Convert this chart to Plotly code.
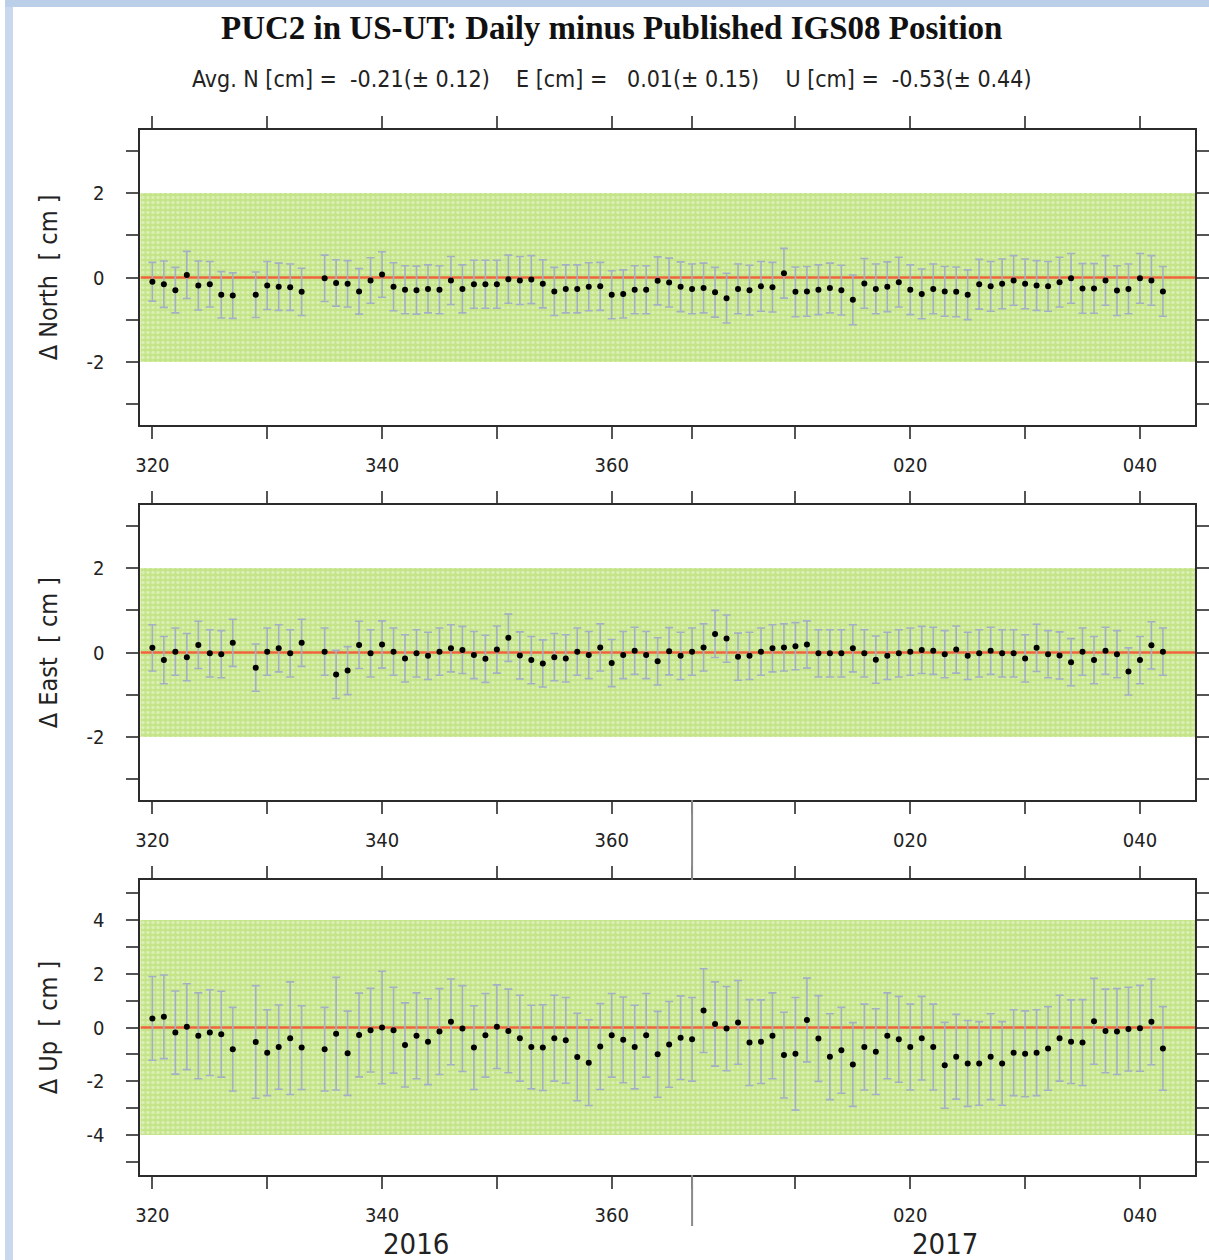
import plotly.graph_objects as go
from plotly.subplots import make_subplots

# day of year, continuous across the 2016/2017 boundary (2017 day n = 366 + n)
days = [320, 321, 322, 323, 324, 325, 326, 327,
        329, 330, 331, 332, 333,
        335, 336, 337, 338, 339, 340, 341, 342, 343, 344, 345, 346, 347, 348, 349,
        350, 351, 352, 353, 354, 355, 356, 357, 358, 359, 360, 361, 362, 363, 364, 365,
        366, 367, 368, 369, 370, 371, 372, 373, 374, 375, 376, 377, 378, 379, 380,
        381, 382, 383, 384, 385, 386, 387, 388, 389, 390, 391, 392, 393, 394, 395,
        396, 397, 398, 399, 400, 401, 402, 403, 404, 405, 406, 407, 408]

north = [-0.10, -0.16, -0.30, 0.06, -0.19, -0.16, -0.41, -0.43,
         -0.41, -0.19, -0.22, -0.23, -0.34,
         -0.02, -0.13, -0.15, -0.33, -0.07, 0.07, -0.22, -0.29, -0.30, -0.27, -0.29, -0.07, -0.27, -0.16, -0.16,
         -0.16, -0.04, -0.07, -0.05, -0.15, -0.33, -0.27, -0.27, -0.22, -0.21, -0.41, -0.39, -0.29, -0.29, -0.08, -0.12,
         -0.22, -0.27, -0.25, -0.35, -0.49, -0.27, -0.30, -0.21, -0.23, 0.10, -0.34, -0.33, -0.29, -0.25, -0.30,
         -0.53, -0.14, -0.27, -0.22, -0.11, -0.29, -0.39, -0.27, -0.33, -0.34, -0.41, -0.16, -0.21, -0.15, -0.07,
         -0.15, -0.19, -0.21, -0.11, -0.02, -0.26, -0.26, -0.07, -0.31, -0.27, -0.02, -0.07, -0.33]
north_err = [0.46, 0.55, 0.54, 0.56, 0.58, 0.54, 0.55, 0.54,
             0.54, 0.57, 0.56, 0.55, 0.56,
             0.55, 0.55, 0.55, 0.54, 0.54, 0.54, 0.57, 0.57, 0.57, 0.57, 0.57, 0.57, 0.57, 0.57, 0.57,
             0.57, 0.57, 0.57, 0.57, 0.57, 0.57, 0.57, 0.57, 0.57, 0.57, 0.57, 0.57, 0.57, 0.57, 0.57, 0.58,
             0.59, 0.59, 0.59, 0.59, 0.59, 0.59, 0.59, 0.59, 0.59, 0.59, 0.59, 0.59, 0.59, 0.59, 0.59,
             0.59, 0.59, 0.59, 0.59, 0.59, 0.59, 0.59, 0.59, 0.59, 0.59, 0.59, 0.59, 0.59, 0.59, 0.59,
             0.59, 0.59, 0.59, 0.59, 0.59, 0.59, 0.59, 0.59, 0.59, 0.59, 0.59, 0.59, 0.59]

east = [0.11, -0.18, 0.02, -0.11, 0.18, -0.02, -0.04, 0.23,
        -0.36, 0.02, 0.10, -0.02, 0.23,
        0.02, -0.52, -0.43, 0.18, -0.02, 0.19, 0.02, -0.14, -0.02, -0.08, 0.02, 0.10, 0.06, -0.06, -0.15,
        0.07, 0.35, -0.07, -0.18, -0.26, -0.11, -0.14, 0.02, -0.06, 0.12, -0.25, -0.06, 0.04, -0.06, -0.21, 0.03,
        -0.08, 0.02, 0.12, 0.44, 0.33, -0.10, -0.08, 0.02, 0.10, 0.12, 0.15, 0.19, -0.02, -0.02, -0.02,
        0.10, -0.02, -0.17, -0.08, -0.02, 0.02, 0.06, 0.04, -0.04, 0.07, -0.08, -0.02, 0.04, -0.02, -0.02,
        -0.14, 0.11, -0.04, -0.07, -0.23, 0.02, -0.18, 0.04, -0.04, -0.45, -0.18, 0.17, 0.02]
east_err = [0.55, 0.56, 0.56, 0.56, 0.56, 0.56, 0.56, 0.56,
            0.56, 0.56, 0.56, 0.56, 0.56,
            0.56, 0.57, 0.57, 0.56, 0.56, 0.56, 0.56, 0.56, 0.56, 0.56, 0.56, 0.56, 0.56, 0.56, 0.56,
            0.56, 0.56, 0.56, 0.56, 0.56, 0.56, 0.56, 0.56, 0.56, 0.56, 0.56, 0.56, 0.56, 0.56, 0.56, 0.56,
            0.56, 0.56, 0.56, 0.56, 0.56, 0.56, 0.56, 0.56, 0.56, 0.56, 0.56, 0.56, 0.56, 0.56, 0.56,
            0.56, 0.56, 0.56, 0.56, 0.56, 0.56, 0.56, 0.56, 0.56, 0.56, 0.56, 0.56, 0.56, 0.56, 0.56,
            0.56, 0.56, 0.56, 0.56, 0.56, 0.56, 0.56, 0.56, 0.56, 0.56, 0.56, 0.56, 0.56]

up = [0.34, 0.40, -0.19, 0.03, -0.31, -0.19, -0.25, -0.81,
      -0.54, -0.94, -0.73, -0.40, -0.75,
      -0.81, -0.23, -0.96, -0.28, -0.10, 0.00, -0.10, -0.65, -0.31, -0.53, -0.15, 0.21, -0.04, -0.75, -0.29,
      0.03, -0.13, -0.40, -0.73, -0.75, -0.40, -0.48, -1.10, -1.31, -0.71, -0.29, -0.46, -0.73, -0.29, -1.00, -0.63,
      -0.38, -0.44, 0.63, 0.13, -0.04, 0.19, -0.56, -0.53, -0.31, -1.03, -0.98, 0.28, -0.41, -1.09, -0.85,
      -1.38, -0.73, -0.90, -0.31, -0.44, -0.73, -0.40, -0.73, -1.41, -1.09, -1.34, -1.34, -1.09, -1.34, -0.94,
      -0.98, -0.94, -0.78, -0.40, -0.53, -0.56, 0.23, -0.13, -0.15, -0.06, -0.03, 0.21, -0.78]
up_err = [1.56, 1.56, 1.55, 1.60, 1.60, 1.60, 1.60, 1.56,
          2.10, 1.60, 1.57, 2.10, 1.56,
          1.56, 2.10, 1.57, 1.56, 1.56, 2.10, 1.60, 1.57, 1.60, 1.60, 1.60, 1.60, 1.60, 1.56, 1.56,
          1.56, 1.56, 1.60, 1.56, 1.60, 1.60, 1.60, 1.63, 1.60, 1.60, 1.56, 1.60, 1.56, 1.56, 1.60, 1.60,
          1.56, 1.56, 1.56, 1.57, 1.57, 1.56, 1.60, 1.56, 1.60, 1.60, 2.10, 1.56, 1.60, 1.60, 1.60,
          1.56, 1.60, 1.60, 1.60, 1.60, 1.60, 1.56, 1.60, 1.60, 1.58, 1.60, 1.56, 1.60, 1.56, 1.60,
          1.60, 1.60, 1.56, 1.60, 1.56, 1.60, 1.60, 1.56, 1.60, 1.56, 1.60, 1.60, 1.56]

panels = [("North", north, north_err), ("East", east, east_err), ("Up", up, up_err)]
band = [2, 2, 4]            # green tolerance band +/- cm
ylims = [3.5, 3.5, 5.5]
ytick_step = [1, 1, 1]
ylabel_every = [2, 2, 2]

x_range = [318.96, 410.8]
tick_days = [320, 330, 340, 350, 360, 367, 376, 386, 396, 406]
tick_text = ["320", "", "340", "", "360", "", "", "020", "", "040"]
year_start = 367
year_names = ["2016", "2017"]
year_centers = [343, 389]

title = "<b>PUC2 in US-UT: Daily minus Published IGS08 Position</b>"
nb = "\u00a0"
subtitle = ("Avg. N [cm] =" + nb * 2 + "-0.21(±" + nb + "0.12)" + nb * 4 +
            "E [cm] =" + nb * 3 + "0.01(±" + nb + "0.15)" + nb * 4 +
            "U [cm] =" + nb * 2 + "-0.53(±" + nb + "0.44)")

W, H = 1209, 1260
narrow = "DejaVu Sans Condensed, Liberation Sans Narrow, Arial Narrow, sans-serif"
green = "#c4e488"
err_col = "#a3afc4"
zero_col = "#f0623c"

# panel frames in pixels (top, bottom)
frames = [(130, 425), (505, 800), (880, 1175)]
x_dom = [136 / W, 1195 / W]

fig = make_subplots(rows=3, cols=1)

for i, (name, vals, errs) in enumerate(panels):
    r = i + 1
    b = band[i]
    fig.add_trace(go.Bar(
        x=[(x_range[0] + x_range[1]) / 2], y=[2 * b], base=[-b],
        width=[x_range[1] - x_range[0]],
        marker=dict(color=green, line=dict(width=0),
                    pattern=dict(shape=".", bgcolor=green, fgcolor="#f3fae6",
                                 size=5, solidity=0.35, fillmode="overlay")),
        showlegend=False, hoverinfo="skip"), row=r, col=1)
    fig.add_trace(go.Scatter(
        x=x_range, y=[0, 0], mode="lines",
        line=dict(color=zero_col, width=2.5),
        showlegend=False, hoverinfo="skip"), row=r, col=1)
    fig.add_trace(go.Scatter(
        x=days, y=vals, mode="markers",
        marker=dict(color="black", size=6),
        error_y=dict(type="data", array=errs, color=err_col, thickness=1.6, width=4),
        showlegend=False, name=name), row=r, col=1)

    top, bot = frames[i]
    ydom = [1 - bot / H, 1 - top / H]
    yl = ylims[i]
    step = ytick_step[i]
    n = int(yl // step)
    yt = [k * step for k in range(-n, n + 1)]
    ytxt = [str(v) if v % ylabel_every[i] == 0 else "" for v in yt]

    fig.update_xaxes(
        row=r, col=1, domain=x_dom, range=x_range,
        showline=True, linecolor="#2b2b2b", linewidth=2, mirror="ticks",
        ticks="outside", ticklen=12, tickwidth=1.5, tickcolor="#555",
        tickvals=tick_days, ticktext=tick_text, ticklabelstandoff=9,
        tickfont=dict(family=narrow, size=20, color="#222"),
        showgrid=False, zeroline=False)
    fig.update_yaxes(
        row=r, col=1, domain=ydom, range=[-yl, yl],
        showline=True, linecolor="#2b2b2b", linewidth=2, mirror="ticks",
        ticks="outside", ticklen=12, tickwidth=1.5, tickcolor="#555",
        tickvals=yt, ticktext=ytxt, ticklabelstandoff=18,
        tickfont=dict(family=narrow, size=20, color="#222"),
        showgrid=False, zeroline=False)

    fig.add_annotation(
        xref="paper", yref="paper", x=44 / W, y=(ydom[0] + ydom[1]) / 2,
        xanchor="center", yanchor="middle",
        text="\u0394 " + name + nb * 2 + "[" + nb + "cm" + nb + "]", textangle=-90,
        showarrow=False, font=dict(family=narrow, size=25, color="#222"))

# long year-boundary marks below the middle and bottom panels
fig.add_shape(type="line", xref="x2", yref="paper", x0=year_start, x1=year_start,
              y0=1 - frames[2][0] / H, y1=1 - frames[1][1] / H,
              line=dict(color="#8a8a8a", width=2))
fig.add_shape(type="line", xref="x3", yref="paper", x0=year_start, x1=year_start,
              y0=1 - 1226 / H, y1=1 - frames[2][1] / H,
              line=dict(color="#8a8a8a", width=2))

for name, c in zip(year_names, year_centers):
    fig.add_annotation(xref="x3", yref="paper", x=c, y=1 - 1244 / H, text=name,
                       xanchor="center", yanchor="middle",
                       showarrow=False, font=dict(family=narrow, size=29, color="#222"))

fig.add_annotation(xref="paper", yref="paper", x=609 / W, y=1 - 28 / H, text=title,
                   xanchor="center", yanchor="middle", showarrow=False,
                   font=dict(family="Liberation Serif, Times New Roman, serif", size=33, color="#111"))
fig.add_annotation(xref="paper", yref="paper", x=610 / W, y=1 - 79 / H, text=subtitle,
                   xanchor="center", yanchor="middle", showarrow=False,
                   font=dict(family=narrow, size=23, color="#222"))

# page background strips (light blue web page behind the image)
fig.add_shape(type="rect", xref="paper", yref="paper", x0=0, x1=8 / W, y0=0, y1=1,
              fillcolor="#c9d8ee", line=dict(width=0), layer="below")
fig.add_shape(type="rect", xref="paper", yref="paper", x0=0, x1=1, y0=1 - 7 / H, y1=1,
              fillcolor="#bccfe8", line=dict(width=0), layer="below")

fig.update_layout(
    width=W, height=H,
    margin=dict(l=0, r=0, t=0, b=0),
    paper_bgcolor="white", plot_bgcolor="white",
    barmode="overlay", bargap=0,
    showlegend=False,
)

fig.write_html("out.html", config={"displayModeBar": False},
               post_script="document.body.style.margin='0';document.body.style.overflow='hidden';")
